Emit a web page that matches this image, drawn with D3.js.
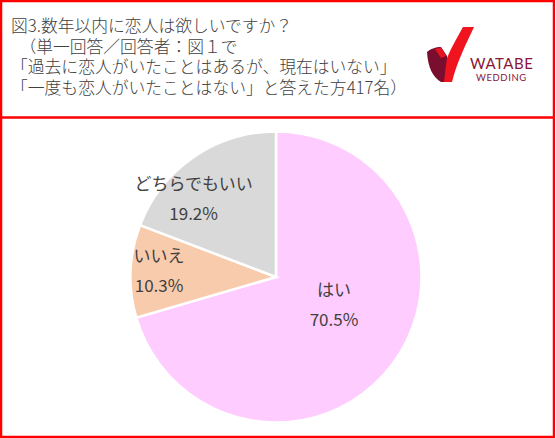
<!DOCTYPE html>
<html><head><meta charset="utf-8">
<script src="https://cdn.jsdelivr.net/npm/d3@7"></script>
<style>
html,body{margin:0;padding:0;background:#fff;}
svg{display:block;}
</style></head>
<body>
<script>
const categories = ["はい", "いいえ", "どちらでもいい"];
const values = [70.5, 10.3, 19.2];
const valueLabels = ["70.5%", "10.3%", "19.2%"];
const colors = ["#FFCCFF", "#F8CBAD", "#D9D9D9"];
const titleLines = [
  "図3.数年以内に恋人は欲しいですか？",
  "　（単一回答／回答者：図１で",
  "「過去に恋人がいたことはあるが、現在はいない」",
  "「一度も恋人がいたことはない」と答えた方417名）"
];

const W = 555, H = 438;
const svg = d3.select("body").append("svg").attr("width", W).attr("height", H);
svg.append("rect").attr("width", W).attr("height", H).attr("fill", "#fff");

const font = "'Noto Sans CJK JP', 'Noto Sans', sans-serif";

// Header text
svg.append("g").selectAll("text").data(titleLines).join("text")
  .attr("x", 11).attr("y", (d, i) => 32 + i * 20.7)
  .attr("font-family", font).attr("font-size", 16.8).attr("font-weight", 300)
  .attr("fill", "#404040").text(d => d);

// Logo
const logo = svg.append("g");
logo.append("path").attr("fill", "#7A0E2E")
  .attr("d", "M427,52 C430,49 436,47 441,47 L447,56 L447,72 L451,82 L441,82 C433,77 428,68 427,52 Z");
logo.append("path").attr("fill", "#E8141E")
  .attr("d", "M435,49 L441,47.5 L446,56 L441,58 Z");
logo.append("path").attr("fill", "#F0141E")
  .attr("d", "M463,27 L474,27 C466,44 457,62 452,82 L444,82 C445,74 446,64 447,58 C452,46 458,36 463,27 Z");
logo.append("text").attr("x", 470).attr("y", 69)
  .attr("font-family", "'Lato', 'Open Sans', sans-serif").attr("font-size", 15)
  .attr("fill", "#8A1538").attr("letter-spacing", 0.5).text("WATABE");
logo.append("text").attr("x", 476).attr("y", 81)
  .attr("font-family", "'Lato', 'Open Sans', sans-serif").attr("font-size", 9.5)
  .attr("fill", "#8A1538").attr("letter-spacing", 0.6).text("WEDDING");

// Pie
const cx = 276, cy = 277, R = 145.5;
const pie = d3.pie().sort(null).value(d => d.v);
const data = pie(categories.map((c, i) => ({c, v: values[i], l: valueLabels[i], col: colors[i]})));
const arc = d3.arc().innerRadius(0).outerRadius(R);
const g = svg.append("g").attr("transform", `translate(${cx},${cy})`);
g.selectAll("path").data(data).join("path")
  .attr("d", arc).attr("fill", d => d.data.col)
  .attr("stroke", "#fff").attr("stroke-width", 2.5).attr("stroke-linejoin", "miter");

// Labels: centroid-based with placement tweaks
const labelArc = d3.arc().innerRadius(R * 0.55).outerRadius(R * 0.55);
const tweak = [[-6, -20], [-37, -3], [-37, -12]];
const lg = g.selectAll("g.lbl").data(data).join("g").attr("class", "lbl")
  .attr("transform", (d, i) => {
    const c = labelArc.centroid(d);
    return `translate(${c[0] + tweak[i][0]},${c[1] + tweak[i][1]})`;
  });
lg.append("text").attr("text-anchor", "middle").attr("y", -9)
  .attr("font-family", font).attr("font-size", 17).attr("fill", "#404040")
  .text(d => d.data.c);
lg.append("text").attr("text-anchor", "middle").attr("y", 21)
  .attr("font-family", font).attr("font-size", 17).attr("fill", "#404040")
  .text(d => d.data.l);

// Borders
svg.append("line").attr("x1", 0).attr("x2", W).attr("y1", 117.5).attr("y2", 117.5)
  .attr("stroke", "#FF0000").attr("stroke-width", 2.5);
svg.append("rect").attr("x", 1).attr("y", 1).attr("width", W - 2).attr("height", H - 2)
  .attr("fill", "none").attr("stroke", "#FF0000").attr("stroke-width", 2.5);
</script>
</body></html>
